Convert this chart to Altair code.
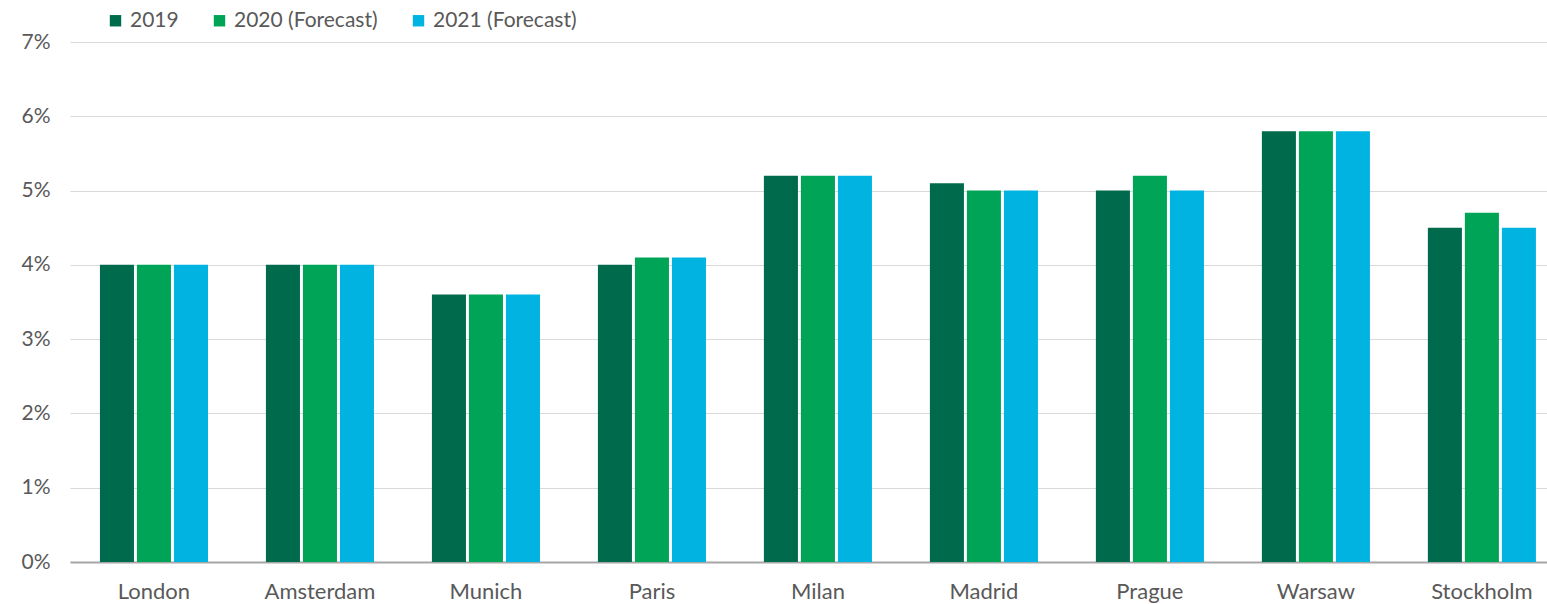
import altair as alt
import pandas as pd

cities = ["London", "Amsterdam", "Munich", "Paris", "Milan", "Madrid", "Prague", "Warsaw", "Stockholm"]
series = ["2019", "2020 (Forecast)", "2021 (Forecast)"]
v2019 = [0.040, 0.040, 0.036, 0.040, 0.052, 0.051, 0.050, 0.058, 0.045]
v2020 = [0.040, 0.040, 0.036, 0.041, 0.052, 0.050, 0.052, 0.058, 0.047]
v2021 = [0.040, 0.040, 0.036, 0.041, 0.052, 0.050, 0.050, 0.058, 0.045]
colors = ["#006B4C", "#00A457", "#00B3E0"]

rows = []
for name, vals in zip(series, [v2019, v2020, v2021]):
    for c, v in zip(cities, vals):
        rows.append({"city": c, "series": name, "value": v})
df = pd.DataFrame(rows)

FONT = "Lato"
GRAY = "#595959"

chart = (
    alt.Chart(df)
    .mark_bar()
    .encode(
        x=alt.X(
            "city:N",
            sort=cities,
            title=None,
            scale=alt.Scale(paddingInner=0.349, paddingOuter=0.1235, align=0.73),
            axis=alt.Axis(
                labelAngle=0,
                ticks=False,
                domainColor="#A6A6A6",
                domainWidth=2,
                labelFontSize=22,
                labelColor=GRAY,
                labelFont=FONT,
                labelPadding=19,
                grid=False,
            ),
        ),
        xOffset=alt.XOffset(
            "series:N",
            sort=series,
            scale=alt.Scale(paddingInner=0.08, paddingOuter=0),
        ),
        y=alt.Y(
            "value:Q",
            title=None,
            scale=alt.Scale(domain=[0, 0.07], nice=False),
            axis=alt.Axis(
                format=".0%",
                values=[0, 0.01, 0.02, 0.03, 0.04, 0.05, 0.06, 0.07],
                ticks=False,
                domain=False,
                gridColor="#D9D9D9",
                gridWidth=1,
                labelFontSize=21,
                labelColor=GRAY,
                labelFont=FONT,
                labelPadding=20,
            ),
        ),
        color=alt.Color(
            "series:N",
            sort=series,
            scale=alt.Scale(domain=series, range=colors),
            legend=alt.Legend(
                title=None,
                orient="none",
                direction="horizontal",
                legendX=35,
                legendY=-32,
                symbolType="square",
                symbolSize=130,
                symbolStrokeWidth=0,
                labelFontSize=21,
                labelColor=GRAY,
                labelFont=FONT,
                labelOffset=4,
                columnPadding=30,
            ),
        ),
    )
    .properties(
        width=1477,
        height=520,
        autosize=alt.AutoSizeParams(type="none"),
        padding={"left": 70, "top": 42, "right": 0, "bottom": 42},
    )
    .configure_view(stroke=None)
)

chart.save("out.html", embed_options={"renderer": "svg", "actions": False})
